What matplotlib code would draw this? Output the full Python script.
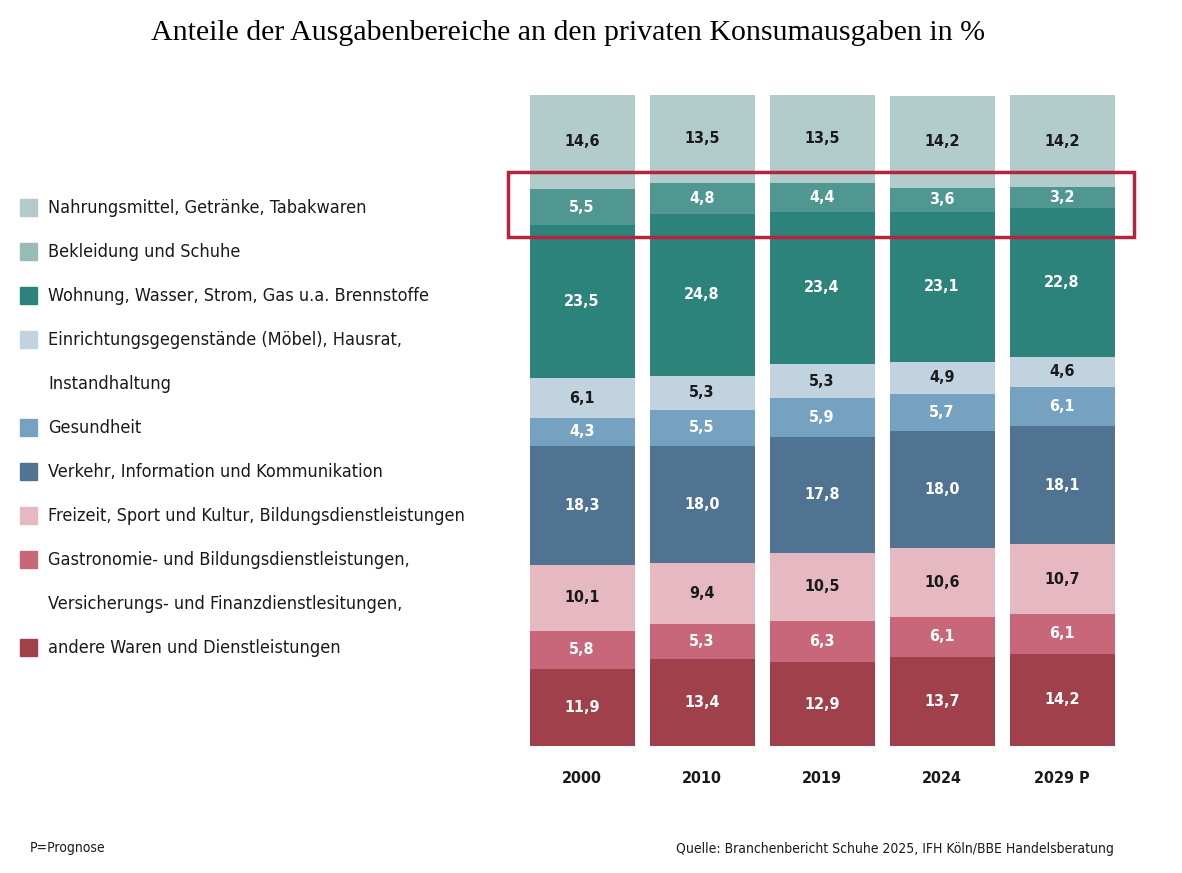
import matplotlib.pyplot as plt
import matplotlib.patches as mpatches
import numpy as np

years = ["2000", "2010", "2019", "2024", "2029 P"]
# stacked bottom to top
categories = [
    "andere Waren und Dienstleistungen",
    "Gastronomie",
    "Freizeit",
    "Verkehr",
    "Gesundheit",
    "Einrichtung",
    "Wohnung",
    "Bekleidung",
    "Nahrung",
]
values = [
    [11.9, 13.4, 12.9, 13.7, 14.2],
    [5.8, 5.3, 6.3, 6.1, 6.1],
    [10.1, 9.4, 10.5, 10.6, 10.7],
    [18.3, 18.0, 17.8, 18.0, 18.1],
    [4.3, 5.5, 5.9, 5.7, 6.1],
    [6.1, 5.3, 5.3, 4.9, 4.6],
    [23.5, 24.8, 23.4, 23.1, 22.8],
    [5.5, 4.8, 4.4, 3.6, 3.2],
    [14.6, 13.5, 13.5, 14.2, 14.2],
]
colors = ["#a0404b", "#c9677a", "#e6b8c2", "#4f7391", "#75a2c0",
          "#c0d3df", "#2c837c", "#4f9790", "#b2cbcb"]
dark_text = [False, False, True, False, False, True, False, False, True]

legend_labels = [
    ("Nahrungsmittel, Getränke, Tabakwaren", "#b2cbcb"),
    ("Bekleidung und Schuhe", "#98bcb8"),
    ("Wohnung, Wasser, Strom, Gas u.a. Brennstoffe", "#2c837c"),
    ("Einrichtungsgegenstände (Möbel), Hausrat,", "#c0d3df"),
    ("Instandhaltung", None),
    ("Gesundheit", "#75a2c0"),
    ("Verkehr, Information und Kommunikation", "#4f7391"),
    ("Freizeit, Sport und Kultur, Bildungsdienstleistungen", "#e6b8c2"),
    ("Gastronomie- und Bildungsdienstleistungen,", "#c9677a"),
    ("Versicherungs- und Finanzdienstlesitungen,", None),
    ("andere Waren und Dienstleistungen", "#a0404b"),
]

plt.rcParams['font.family'] = ["DejaVu Sans"]
plt.rcParams['font.stretch'] = "condensed"

W, H = 1182, 873
fig = plt.figure(figsize=(W / 100, H / 100), dpi=100)
ax = fig.add_axes([510 / W, (H - 746) / H, 624 / W, 651 / H])

x = np.arange(len(years))
bottom = np.zeros(len(years))
for vals, c, dk in zip(values, colors, dark_text):
    vals = np.array(vals)
    ax.bar(x, vals, bottom=bottom, color=c, width=0.875)
    for xi, v, b in zip(x, vals, bottom):
        ax.text(xi, b + v / 2, f"{v:.1f}".replace(".", ","), ha="center", va="center",
                fontsize=11.5, fontweight="bold", color="#1a1a1a" if dk else "white")
    bottom += vals

ax.set_xlim(-0.6, 4.6)
ax.set_ylim(0, 100)
ax.axis("off")
for xi, y in zip(x, years):
    ax.text(xi, -5, y, ha="center", va="center", fontsize=11.5, fontweight="bold", color="#1a1a1a")

fig.text(568 / W, 1 - 33 / H, "Anteile der Ausgabenbereiche an den privaten Konsumausgaben in %",
         ha="center", va="center", fontsize=21.5, family=["Liberation Serif", "DejaVu Serif"],
         fontstretch="normal")

for i, (lab, c) in enumerate(legend_labels):
    yc = 208 + 44 * i
    if c:
        fig.patches.append(mpatches.Rectangle((20 / W, 1 - (yc + 8) / H), 17 / W, 17 / H,
                                              color=c, transform=fig.transFigure))
    fig.text(48 / W, 1 - yc / H, lab, ha="left", va="center", fontsize=13, color="#1a1a1a")

fig.patches.append(mpatches.Rectangle((508 / W, 1 - 237 / H), 626 / W, 65 / H, fill=False,
                                      edgecolor="#b5243f", linewidth=2.5, transform=fig.transFigure))

fig.text(30 / W, 1 - 848 / H, "P=Prognose", ha="left", va="center", fontsize=10, color="#1a1a1a")
fig.text(1114 / W, 1 - 849 / H, "Quelle: Branchenbericht Schuhe 2025, IFH Köln/BBE Handelsberatung",
         ha="right", va="center", fontsize=10, color="#1a1a1a")

fig.savefig("out.png", dpi=100, facecolor="white")
